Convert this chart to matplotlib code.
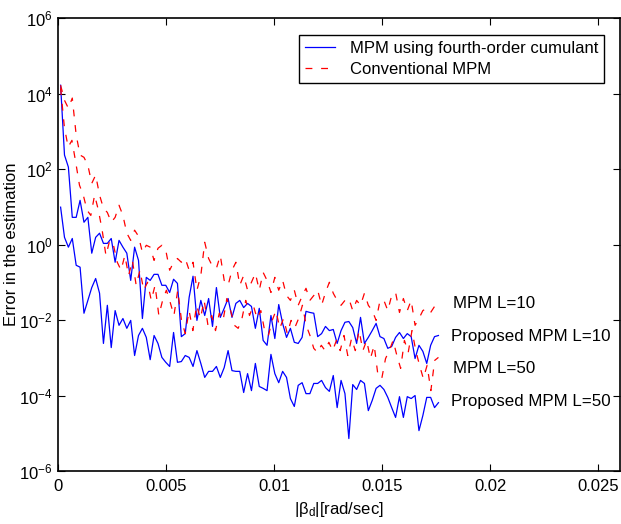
import numpy as np
import matplotlib.pyplot as plt

plt.rcParams['font.family'] = ['Liberation Sans', 'DejaVu Sans']
plt.rcParams['mathtext.default'] = 'regular'

# log10 of the estimation error
proposed_l10 = [4.22, 2.37, 2.05, 0.72, 0.72, 1.17, 0.59, 0.72, -0.23, 0.19, 0.30, 0.03, 0.03, 0.16,
                -0.47, 0.11, -0.07, -0.23, -0.95, -0.07, -0.42, -1.96, -0.87, -0.95, -0.79, -0.79,
                -1.08, -1.08, -1.27, -0.92, -1.03, -2.44, -2.36, -1.40, -0.84, -2.01, -1.48, -1.88,
                -1.43, -2.17, -1.14, -1.93, -1.69, -1.43, -1.93, -1.56, -1.48, -1.67, -1.56, -1.64,
                -2.22, -1.69, -2.54, -2.67, -1.88, -2.49, -1.59, -2.09, -2.46, -2.22, -2.59, -2.62,
                -2.46, -1.77, -1.80, -1.82, -2.44, -2.36, -2.17, -2.28, -2.25, -2.62, -2.28, -2.06,
                -2.04, -2.20, -2.62, -1.93, -2.62, -2.46, -2.28, -2.09, -2.44, -2.49, -2.75, -2.70,
                -2.46, -2.33, -2.49, -2.36, -2.44, -3.02, -2.67, -2.83, -3.15, -2.67, -2.44, -2.41]

proposed_l50 = [0.99, 0.19, -0.07, 0.16, -0.55, -0.60, -1.82, -1.48, -1.14, -0.90, -1.29, -2.62,
                -1.61, -2.73, -1.75, -2.14, -1.96, -2.22, -2.01, -2.94, -2.41, -2.22, -2.46, -3.05,
                -2.41, -2.62, -2.99, -3.12, -3.23, -2.33, -3.12, -3.10, -2.94, -2.99, -3.23, -2.81,
                -3.15, -3.52, -3.36, -3.36, -3.23, -3.52, -3.26, -2.81, -3.34, -3.36, -3.36, -3.92,
                -3.42, -3.87, -3.15, -3.76, -3.81, -3.87, -2.91, -3.42, -3.66, -3.36, -3.52, -4.08,
                -4.29, -3.73, -3.66, -3.95, -3.95, -3.68, -3.68, -3.60, -3.79, -3.89, -3.47, -4.32,
                -3.60, -3.95, -5.14, -3.71, -3.84, -3.60, -3.68, -4.40, -4.13, -3.81, -3.73, -3.84,
                -4.05, -4.32, -4.58, -4.03, -4.58, -4.03, -4.08, -4.00, -4.93, -4.53, -4.05, -4.05,
                -4.32, -4.19]

mpm_l10 = [4.22, 3.82, 3.61, 3.88, 2.90, 2.37, 2.31, 2.10, 1.62, 1.84, 1.31, 0.96, 0.85, 0.59, 0.72,
           1.04, 0.77, 0.30, 0.11, 0.38, 0.22, -0.21, -0.02, -0.07, -0.42, -0.10, -0.02, -0.15, -0.68,
           -0.47, -0.37, -0.47, -0.37, -0.68, -0.47, -1.21, -0.82, 0.06, -0.37, -0.58, -0.63, -0.29,
           -0.95, -1.08, -0.68, -0.47, -1.08, -0.82, -1.21, -1.00, -0.76, -1.21, -0.74, -0.95, -1.27,
           -0.87, -1.21, -0.95, -1.35, -1.48, -1.21, -1.61, -1.37, -1.16, -1.48, -1.35, -1.21, -1.61,
           -1.27, -1.00, -1.29, -1.48, -1.61, -1.48, -1.43, -1.75, -1.48, -1.61, -1.29, -1.61, -1.75,
           -2.01, -1.48, -1.48, -1.75, -1.35, -1.27, -1.80, -1.43, -1.75, -1.48, -2.14, -1.96, -1.75,
           -1.69, -1.80, -1.64, -1.48]

mpm_l50 = [4.14, 3.11, 2.58, 2.76, 2.18, 1.57, 1.31, 0.91, 0.77, 1.31, 0.91, 0.38, -0.29, 0.11,
           -0.02, -0.47, -0.68, -0.29, -0.82, -0.42, -1.08, -0.68, -1.21, -1.00, -1.48, -1.08, -1.88,
           -1.48, -1.21, -1.53, -1.88, -1.21, -2.01, -2.36, -1.75, -2.28, -1.61, -1.96, -1.48, -2.14,
           -1.88, -2.28, -1.82, -2.01, -1.43, -1.75, -2.14, -2.22, -1.96, -1.48, -1.88, -1.61, -1.96,
           -1.75, -2.28, -2.41, -2.01, -1.75, -2.22, -1.96, -2.36, -2.01, -2.20, -1.96, -1.61, -2.14,
           -2.41, -2.75, -2.86, -2.67, -2.81, -2.59, -2.81, -2.54, -2.81, -2.41, -2.94, -2.49, -2.81,
           -2.28, -2.81, -2.54, -3.02, -2.67, -3.47, -3.55, -3.02, -2.81, -2.54, -2.94, -3.28, -2.54,
           -2.86, -2.28, -2.81, -3.20, -3.55, -3.20, -3.87, -3.07, -2.99]

x_first, x_last = 0.00012, 0.0176

labels = ['MPM L=10', 'Proposed MPM L=10', 'MPM L=50', 'Proposed MPM L=50']
label_x = [0.01829, 0.01816, 0.01829, 0.01816]
label_y = [-1.56, -2.44, -3.28, -4.16]


def grid(vals):
    return np.linspace(x_first, x_last, len(vals))


fig = plt.figure(figsize=(6.21, 5.24), dpi=100)
ax = fig.add_axes([0.0934, 0.1011, 0.905, 0.8645])

dash = (5.5, 7)
ax.plot(grid(proposed_l10), np.power(10.0, proposed_l10), color='#0000ff', lw=0.9,
        label='MPM using fourth-order cumulant')
ax.plot(grid(mpm_l10), np.power(10.0, mpm_l10), color='#ff0000', lw=0.9, dashes=dash,
        label='Conventional MPM')
ax.plot(grid(proposed_l50), np.power(10.0, proposed_l50), color='#0000ff', lw=0.9)
ax.plot(grid(mpm_l50), np.power(10.0, mpm_l50), color='#ff0000', lw=0.9, dashes=dash)

for lab, lx, ly in zip(labels, label_x, label_y):
    ax.text(lx, 10 ** ly, lab, fontsize=12.2, va='center', ha='left')

ax.set_yscale('log')
ax.set_xlim(0, 0.026)
ax.set_ylim(1e-6, 1e6)
ax.set_xticks([0, 0.005, 0.01, 0.015, 0.02, 0.025])
ax.set_xticklabels(['0', '0.005', '0.01', '0.015', '0.02', '0.025'])
ax.set_yticks([1e-6, 1e-4, 1e-2, 1e0, 1e2, 1e4, 1e6])
ax.yaxis.set_minor_locator(plt.NullLocator())
ax.tick_params(direction='in', top=True, right=True, labelsize=12, length=5, width=0.8, pad=6)
ax.tick_params(axis='y', pad=4)
for s in ax.spines.values():
    s.set_linewidth(1.2)

ax.set_xlabel('|β$_d$|[rad/sec]', fontsize=12, labelpad=4)
ax.set_ylabel('Error in the estimation', fontsize=12)
ax.yaxis.set_label_coords(-0.07, 0.5)

leg = ax.legend(loc='upper right', fontsize=12, fancybox=False, framealpha=1,
                edgecolor='black', borderpad=0.35, handlelength=1.8, handletextpad=0.9,
                labelspacing=0.35, bbox_to_anchor=(0.986, 0.98))
leg.get_frame().set_linewidth(1.0)

fig.savefig('out.png', dpi=100)
